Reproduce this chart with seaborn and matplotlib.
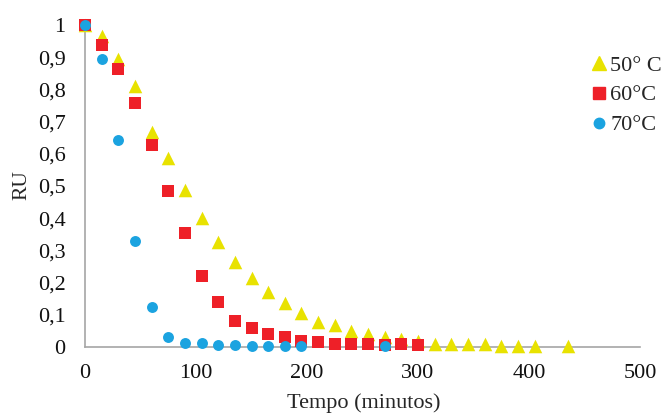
import numpy as np
import pandas as pd
import matplotlib
matplotlib.use("Agg")
import matplotlib.pyplot as plt
import seaborn as sns
from matplotlib.lines import Line2D

# Data
t50 = [0, 15, 30, 45, 60, 75, 90, 105, 120, 135, 150, 165, 180, 195, 210, 225, 240, 255,
       270, 285, 300, 315, 330, 345, 360, 375, 390, 405, 435]
ru50 = [1.0, 0.966, 0.894, 0.81, 0.668, 0.586, 0.488, 0.40, 0.326, 0.264, 0.214, 0.17, 0.136,
        0.105, 0.077, 0.068, 0.05, 0.04, 0.03, 0.025, 0.02, 0.01, 0.01, 0.01, 0.01, 0.002,
        0.002, 0.003, 0.002]
t60 = [0, 15, 30, 45, 60, 75, 90, 105, 120, 135, 150, 165, 180, 195, 210, 225, 240, 255,
       270, 285, 300]
ru60 = [1.0, 0.938, 0.862, 0.758, 0.627, 0.485, 0.354, 0.222, 0.14, 0.082, 0.06, 0.04, 0.03,
        0.02, 0.015, 0.01, 0.01, 0.01, 0.005, 0.01, 0.005]
t70 = [0, 15, 30, 45, 60, 75, 90, 105, 120, 135, 150, 165, 180, 195, 270]
ru70 = [1.0, 0.894, 0.643, 0.33, 0.124, 0.032, 0.013, 0.013, 0.006, 0.006, 0.003, 0.003,
        0.003, 0.003, 0.003]
labels = ["50° C", "60°C", "70°C"]
xticks = [0, 100, 200, 300, 400, 500]
yticks = [0, 0.1, 0.2, 0.3, 0.4, 0.5, 0.6, 0.7, 0.8, 0.9, 1]

colors = {"50° C": "#E8E200", "60°C": "#EE2028", "70°C": "#1BA3E0"}
markers = {"50° C": "^", "60°C": "s", "70°C": "o"}
sizes = {"50° C": 95, "60°C": 70, "70°C": 62}

df = pd.concat([
    pd.DataFrame({"t": t50, "ru": ru50, "s": labels[0]}),
    pd.DataFrame({"t": t60, "ru": ru60, "s": labels[1]}),
    pd.DataFrame({"t": t70, "ru": ru70, "s": labels[2]}),
])

sns.set_style("white")
plt.rcParams["font.family"] = ["Liberation Serif", "DejaVu Serif"]

fig = plt.figure(figsize=(6.64, 4.15), dpi=100)
ax = fig.add_axes([85/664, 1-347/415, (640-85)/664, (347-25)/415])

for lab in labels:
    sub = df[df["s"] == lab]
    sns.scatterplot(data=sub, x="t", y="ru", ax=ax, color=colors[lab], marker=markers[lab],
                    s=sizes[lab], linewidth=0, clip_on=False, legend=False, zorder=3)

ax.set_xlim(0, 500)
ax.set_ylim(0, 1)
ax.set_xticks(xticks)
ax.set_yticks(yticks)
ax.set_xticklabels([str(x) for x in xticks])
ax.set_yticklabels([("%g" % y).replace(".", ",") for y in yticks])
ax.tick_params(axis="both", length=0, labelsize=16, colors="#111111")
ax.tick_params(axis="x", pad=12)
ax.tick_params(axis="y", pad=14)

for sp in ["top", "right"]:
    ax.spines[sp].set_visible(False)
for sp in ["left", "bottom"]:
    ax.spines[sp].set_color("#a6a6a6")
    ax.spines[sp].set_linewidth(1.2)

ax.set_xlabel("")
ax.set_ylabel("")
fig.text(364/664, 1-403/415, "Tempo (minutos)", ha="center", va="center", fontsize=16)
fig.text(22/664, 1-185/415, "RU", ha="center", va="center", rotation=90, fontsize=15.5)

handles = [Line2D([], [], linestyle="none", marker=markers[l], color=colors[l],
                  markersize={"50° C": 10, "60°C": 8.5, "70°C": 7.5}[l]) for l in labels]
fig.legend(handles, labels, loc="upper left", bbox_to_anchor=(588/664, 1-55/415),
           frameon=False, fontsize=16, handletextpad=0.0, labelspacing=0.42,
           handlelength=1.0, borderaxespad=0, borderpad=0)

fig.savefig("out.png", dpi=100)
